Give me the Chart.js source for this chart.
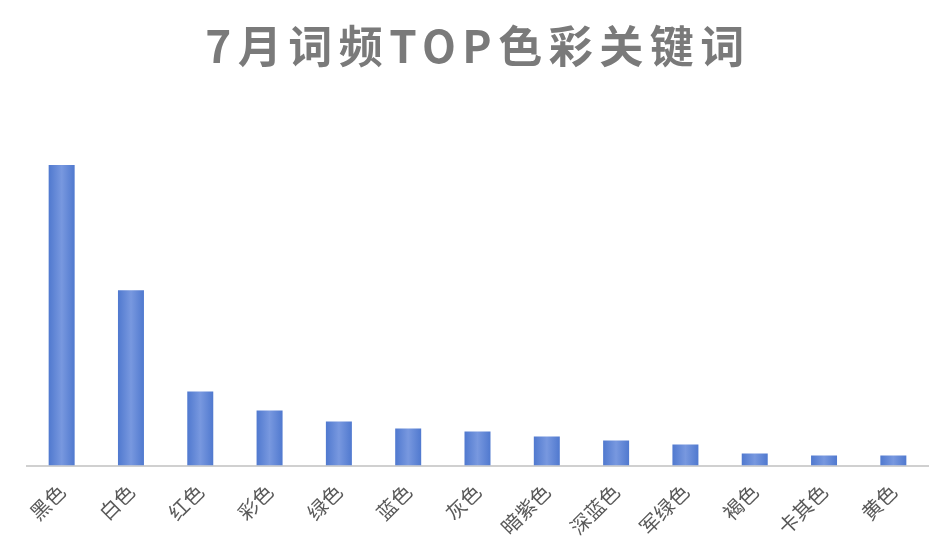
<!DOCTYPE html>
<html>
<head>
<meta charset="utf-8">
<script src="https://cdn.jsdelivr.net/npm/chart.js@4"></script>
<style>
  html, body { margin: 0; padding: 0; background: #ffffff; }
  #wrap { width: 948px; height: 560px; }
</style>
</head>
<body>
<div id="wrap"><canvas id="chart-1" width="948" height="560"></canvas></div>
<script>
var titleText = "7月词频TOP色彩关键词";
var categories = ["黑色", "白色", "红色", "彩色", "绿色", "蓝色", "灰色", "暗紫色", "深蓝色", "军绿色", "褐色", "卡其色", "黄色"];
var counts = [300, 175, 74, 55, 44, 37, 34, 29, 25, 21, 12, 10, 10];

// title drawn by hand so letter spacing can match
var titlePlugin = {
    id: "titleDraw",
    afterDraw: function(chart) {
        var c = chart.ctx;
        c.save();
        c.font = "bold 44px 'Noto Sans CJK SC', 'Noto Sans', sans-serif";
        c.fillStyle = "#7a7a7a";
        c.textBaseline = "middle";
        c.textAlign = "center";
        c.letterSpacing = "6.5px";
        c.fillText(titleText, 478, 46);
        c.restore();
    }
};

function barFill(context) {
    var chart = context.chart;
    var xs = chart.scales && chart.scales.x;
    if (!xs || !chart.chartArea) return "#5b84d4";
    var cx = xs.getPixelForValue(context.dataIndex);
    var half = (xs.width / categories.length) * 0.375 / 2;
    if (!isFinite(cx) || !isFinite(half)) return "#5b84d4";
    var g = chart.ctx.createLinearGradient(cx - half, 0, cx + half, 0);
    g.addColorStop(0, "#5079cf");
    g.addColorStop(0.5, "#7898df");
    g.addColorStop(1, "#5079cf");
    return g;
}

const ctx = document.getElementById("chart-1").getContext("2d");
const myChart = new Chart(ctx, {
    type: "bar",
    data: {
        labels: categories,
        datasets: [{
            data: counts,
            backgroundColor: barFill,
            borderWidth: 0,
            barPercentage: 0.75,
            categoryPercentage: 0.5,
        }],
    },
    options: {
        responsive: false,
        animation: false,
        layout: {
            padding: { top: 145, left: 27, right: 20, bottom: 7 }
        },
        plugins: {
            legend: { display: false },
            tooltip: { enabled: false },
        },
        scales: {
            x: {
                grid: { display: false, drawTicks: false },
                border: { display: true, color: "#d0d0d0", width: 2 },
                ticks: {
                    color: "#595959",
                    font: { size: 20, family: "'Noto Sans CJK SC', sans-serif" },
                    minRotation: 45,
                    maxRotation: 45,
                    padding: 14,
                },
            },
            y: {
                display: false,
                min: 0,
                max: 320,
            },
        },
    },
    plugins: [titlePlugin],
});
</script>
</body>
</html>
